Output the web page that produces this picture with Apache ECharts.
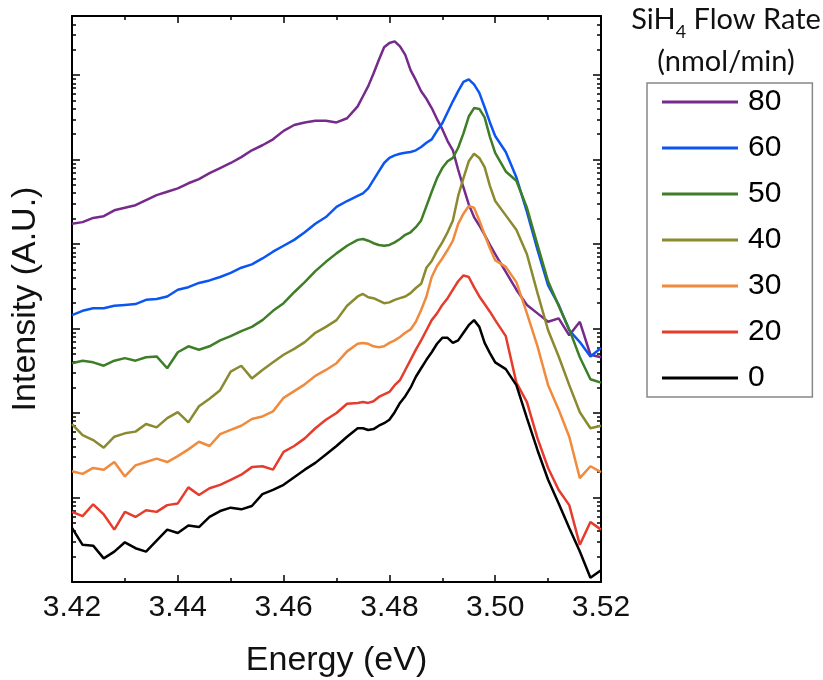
<!DOCTYPE html>
<html>
<head>
<meta charset="utf-8">
<script src="https://cdn.jsdelivr.net/npm/echarts@6/dist/echarts.min.js"></script>
<style>
  html, body { margin: 0; background: #fff; }
  #chart { width: 823px; height: 680px; }
</style>
</head>
<body>
<div id="chart"></div>
<script>
// photon energy (eV): 2 meV steps, 1 meV steps across the peaks
const energy = [
  3.420, 3.422, 3.424, 3.426, 3.428, 3.430, 3.432, 3.434, 3.436, 3.438,
  3.440, 3.442, 3.444, 3.446, 3.448, 3.450, 3.452, 3.454, 3.456, 3.458,
  3.460, 3.462, 3.464, 3.466, 3.468, 3.470, 3.472, 3.474, 3.475, 3.476,
  3.477, 3.478, 3.479, 3.480, 3.481, 3.482, 3.483, 3.484, 3.485, 3.486,
  3.487, 3.488, 3.489, 3.490, 3.491, 3.492, 3.493, 3.494, 3.495, 3.496,
  3.497, 3.498, 3.499, 3.500, 3.502, 3.504, 3.506, 3.508, 3.510, 3.512,
  3.514, 3.516, 3.518, 3.520
]

// log10 of intensity (A.U., curves offset), one array per SiH4 flow rate
const logI80 = [
  4.24, 4.26, 4.31, 4.33, 4.40, 4.43, 4.46, 4.52, 4.58, 4.62,
  4.66, 4.72, 4.77, 4.84, 4.90, 4.96, 5.03, 5.11, 5.17, 5.24,
  5.34, 5.41, 5.44, 5.46, 5.46, 5.44, 5.49, 5.63, 5.75, 5.87,
  6.02, 6.18, 6.33, 6.38, 6.40, 6.34, 6.24, 6.06, 5.94, 5.81,
  5.72, 5.61, 5.48, 5.36, 5.22, 5.11, 4.88, 4.67, 4.47, 4.32,
  4.22, 4.11, 3.99, 3.88, 3.67, 3.46, 3.28, 3.18, 3.08, 3.12,
  2.92, 3.08, 2.69, 2.66
]
const logI60 = [
  3.16, 3.21, 3.24, 3.24, 3.27, 3.28, 3.29, 3.34, 3.35, 3.38,
  3.46, 3.49, 3.54, 3.57, 3.61, 3.66, 3.72, 3.76, 3.83, 3.91,
  3.98, 4.05, 4.14, 4.24, 4.32, 4.44, 4.51, 4.57, 4.60, 4.66,
  4.76, 4.86, 4.96, 5.02, 5.05, 5.07, 5.08, 5.09, 5.11, 5.15,
  5.20, 5.24, 5.34, 5.43, 5.56, 5.69, 5.81, 5.92, 5.95, 5.89,
  5.79, 5.62, 5.44, 5.28, 5.09, 4.79, 4.38, 3.93, 3.51, 3.28,
  2.98, 2.84, 2.67, 2.77
]
const logI50 = [
  2.59, 2.62, 2.60, 2.56, 2.62, 2.65, 2.62, 2.66, 2.67, 2.53,
  2.72, 2.79, 2.75, 2.79, 2.86, 2.91, 2.97, 3.02, 3.10, 3.21,
  3.30, 3.43, 3.55, 3.68, 3.79, 3.89, 3.98, 4.05, 4.06, 4.04,
  4.01, 3.99, 3.98, 3.99, 4.02, 4.06, 4.11, 4.14, 4.20, 4.28,
  4.45, 4.62, 4.78, 4.90, 4.98, 5.02, 5.14, 5.31, 5.51, 5.61,
  5.60, 5.50, 5.27, 5.08, 4.86, 4.75, 4.43, 3.99, 3.56, 3.27,
  2.99, 2.66, 2.40, 2.36
]
const logI40 = [
  1.87, 1.74, 1.68, 1.59, 1.72, 1.76, 1.78, 1.87, 1.83, 1.94,
  2.01, 1.89, 2.08, 2.17, 2.27, 2.49, 2.56, 2.41, 2.51, 2.60,
  2.69, 2.76, 2.84, 2.95, 3.02, 3.10, 3.27, 3.38, 3.41, 3.37,
  3.36, 3.33, 3.30, 3.31, 3.34, 3.36, 3.38, 3.42, 3.48, 3.53,
  3.72, 3.80, 3.92, 4.02, 4.14, 4.28, 4.57, 4.78, 4.98, 5.07,
  5.02, 4.91, 4.69, 4.51, 4.34, 4.17, 3.88, 3.42, 2.98, 2.67,
  2.33, 2.01, 1.82, 1.85
]
const logI30 = [
  1.31, 1.28, 1.35, 1.33, 1.42, 1.25, 1.38, 1.42, 1.46, 1.42,
  1.49, 1.57, 1.66, 1.61, 1.75, 1.80, 1.85, 1.93, 1.96, 2.02,
  2.18, 2.26, 2.34, 2.44, 2.51, 2.59, 2.73, 2.82, 2.83, 2.82,
  2.79, 2.78, 2.79, 2.83, 2.86, 2.90, 2.95, 2.99, 3.08, 3.22,
  3.38, 3.61, 3.74, 3.83, 3.93, 4.04, 4.24, 4.36, 4.45, 4.43,
  4.28, 4.11, 3.95, 3.81, 3.73, 3.55, 3.18, 2.79, 2.33, 2.04,
  1.72, 1.23, 1.37, 1.30
]
const logI20 = [
  0.83, 0.78, 0.92, 0.80, 0.62, 0.83, 0.77, 0.85, 0.83, 0.91,
  0.93, 1.12, 1.03, 1.11, 1.15, 1.21, 1.27, 1.36, 1.37, 1.33,
  1.54, 1.61, 1.70, 1.82, 1.92, 2.00, 2.11, 2.12, 2.13, 2.12,
  2.14, 2.19, 2.22, 2.25, 2.33, 2.39, 2.51, 2.63, 2.75, 2.86,
  2.98, 3.10, 3.18, 3.28, 3.36, 3.46, 3.56, 3.63, 3.61, 3.49,
  3.38, 3.29, 3.20, 3.10, 2.91, 2.36, 2.13, 1.70, 1.35, 1.09,
  0.91, 0.44, 0.71, 0.62
]
const logI0 = [
  0.64, 0.44, 0.43, 0.28, 0.36, 0.47, 0.40, 0.36, 0.49, 0.62,
  0.58, 0.67, 0.65, 0.77, 0.84, 0.88, 0.86, 0.90, 1.04, 1.09,
  1.15, 1.24, 1.33, 1.41, 1.51, 1.61, 1.72, 1.82, 1.82, 1.80,
  1.81, 1.85, 1.88, 1.92, 2.01, 2.12, 2.20, 2.30, 2.43, 2.53,
  2.63, 2.72, 2.82, 2.89, 2.89, 2.83, 2.86, 2.95, 3.04, 3.10,
  3.02, 2.83, 2.71, 2.60, 2.52, 2.33, 1.94, 1.56, 1.21, 0.93,
  0.64, 0.36, 0.05, 0.14
]

const flowRates = ['80', '60', '50', '40', '30', '20', '0']
const curves = [logI80, logI60, logI50, logI40, logI30, logI20, logI0]
const colorList = ['#762b8c', '#0b55f2', '#3d7e27', '#8a8a2f', '#f08a3c', '#e63c2c', '#000000']

// log axis decorations: decade ticks and the 2..9 ticks in between
const decades = [0, 1, 2, 3, 4, 5, 6]
const minorMultiples = [2, 3, 4, 5, 6, 7, 8, 9]
const xTickLabels = ['3.42', '3.44', '3.46', '3.48', '3.50', '3.52']

const yMax = 6.7
const minorY = []
decades.forEach((d) => {
  minorMultiples.forEach((m) => {
    const v = d + Math.log10(m)
    if (v < yMax) minorY.push(v)
  })
})

const font = 'Liberation Sans, Arial, sans-serif'

function xAxisOf(position, withLabels) {
  return {
    type: 'value',
    position,
    min: 3.42,
    max: 3.52,
    interval: 0.02,
    axisLine: { onZero: false, lineStyle: { color: '#000', width: 2 } },
    axisTick: { inside: true, length: 7, lineStyle: { color: '#000', width: 1.5 } },
    minorTick: { show: true, splitNumber: 2, length: 4, lineStyle: { color: '#000', width: 1.5 } },
    splitLine: { show: false },
    minorSplitLine: { show: false },
    axisLabel: {
      show: withLabels,
      margin: 11,
      fontSize: 30,
      fontFamily: font,
      color: '#111',
      formatter: (v) => xTickLabels.find((t) => Math.abs(Number(t) - v) < 1e-6) || '',
    },
    name: withLabels ? 'Energy (eV)' : '',
    nameLocation: 'middle',
    nameGap: 62,
    nameTextStyle: { fontSize: 34, fontFamily: font, color: '#111' },
  }
}

function yAxisOf(position, ticks, len, showLine, name) {
  return {
    type: 'value',
    position,
    min: 0,
    max: yMax,
    axisLine: { show: showLine, onZero: false, lineStyle: { color: '#000', width: 2 } },
    axisTick: { show: true, inside: true, length: len, customValues: ticks, lineStyle: { color: '#000', width: 1.5 } },
    axisLabel: { show: false },
    splitLine: { show: false },
    name,
    nameLocation: 'middle',
    nameGap: 29,
    nameTextStyle: { fontSize: 34, fontFamily: font, color: '#111' },
  }
}

const chart = echarts.init(document.getElementById('chart'))
chart.setOption({
  animation: false,
  backgroundColor: '#fff',
  grid: { left: 72, right: 222, top: 16, bottom: 98, containLabel: false, outerBoundsMode: 'none' },
  title: {
    left: 726,
    top: -1,
    padding: 0,
    textAlign: 'center',
    text: '{m|SiH}{s|4}{m| Flow Rate}\n{m|(nmol/min)}',
    textStyle: {
      fontWeight: 'normal',
      rich: {
        m: { fontFamily: 'Lato', fontSize: 29, fontWeight: 'normal', lineHeight: 42, color: '#111' },
        s: { fontFamily: 'Lato', fontSize: 18, fontWeight: 'normal', lineHeight: 20, verticalAlign: 'bottom', color: '#111' },
      },
    },
  },
  legend: {
    orient: 'vertical',
    left: 647,
    top: 83,
    padding: [4, 31, 4, 15],
    itemWidth: 76,
    itemHeight: 3,
    itemGap: 16,
    icon: 'rect',
    borderColor: '#888',
    borderWidth: 1.5,
    textStyle: { fontSize: 30, lineHeight: 26, fontFamily: font, color: '#000', padding: [0, 0, 0, 5] },
    data: flowRates,
  },
  xAxis: [xAxisOf('bottom', true), xAxisOf('top', false)],
  yAxis: [
    yAxisOf('left', decades, 8, true, 'Intensity (A.U.)'),
    yAxisOf('left', minorY, 4, false, ''),
    yAxisOf('right', decades, 8, true, ''),
    yAxisOf('right', minorY, 4, false, ''),
  ],
  series: curves.map((vals, i) => ({
    name: flowRates[i],
    type: 'line',
    xAxisIndex: 0,
    yAxisIndex: 0,
    showSymbol: false,
    symbol: 'none',
    color: colorList[i],
    lineStyle: { color: colorList[i], width: 2.5 },
    data: energy.map((e, j) => [e, vals[j]]),
  })),
})
</script>
</body>
</html>
